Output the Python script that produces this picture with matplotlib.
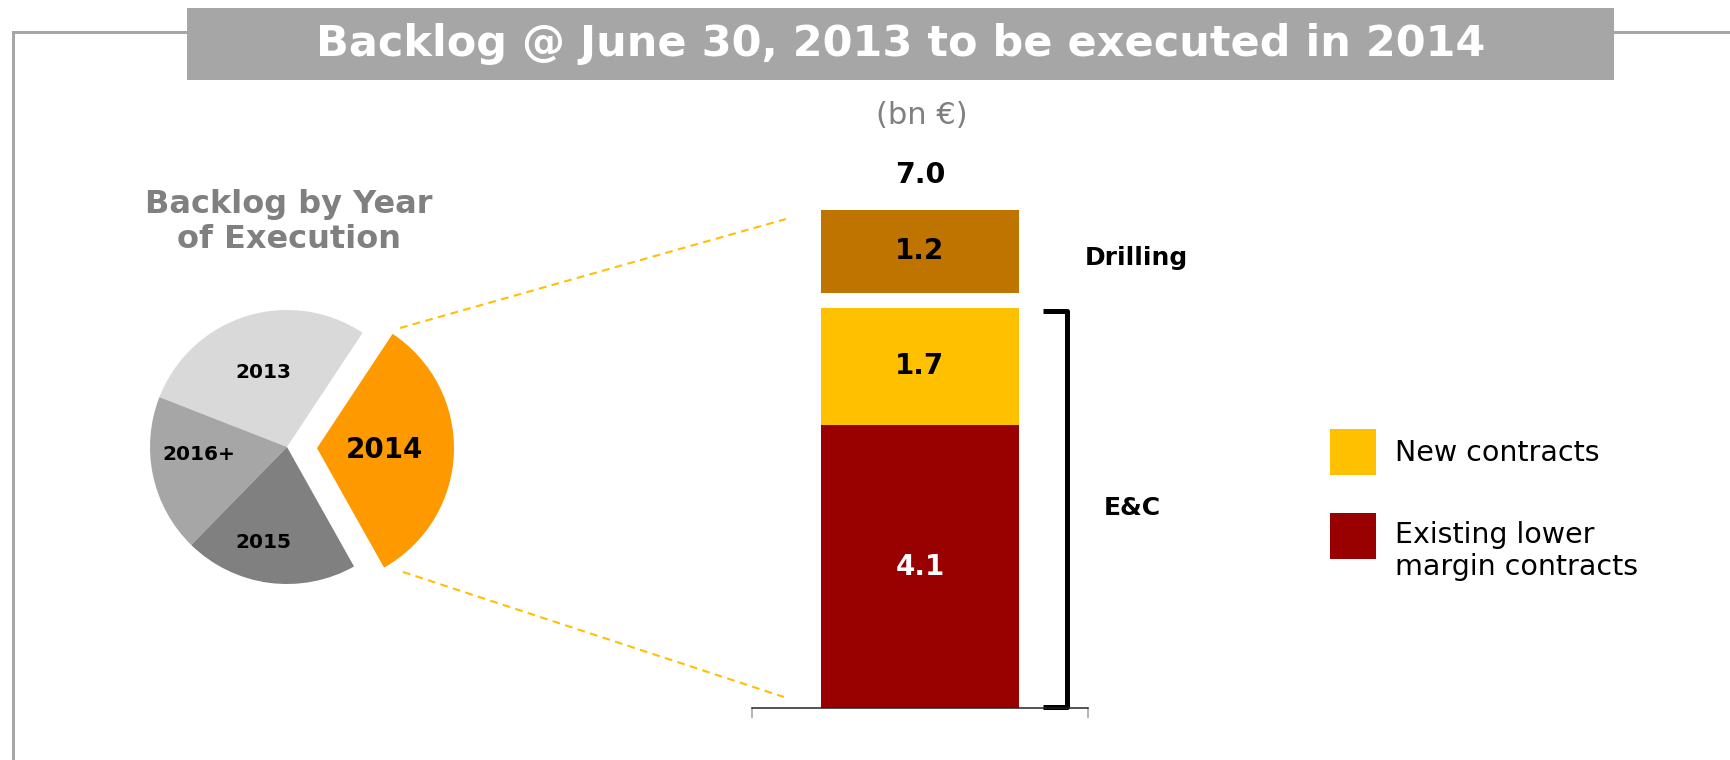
import matplotlib
matplotlib.use("Agg")
import matplotlib.pyplot as plt
from matplotlib.patches import Rectangle

# --- data -------------------------------------------------------------
pie_labels = ["2014", "2013", "2016+", "2015"]
pie_values = [7.0, 6.1, 4.0, 4.4]          # bn €, backlog by year of execution
pie_colors = ["#ff9900", "#d9d9d9", "#a6a6a6", "#808080"]

seg_names = ["Existing lower\nmargin contracts", "New contracts", "Drilling"]
seg_values = [4.1, 1.7, 1.2]
seg_colors = ["#990000", "#ffc000", "#c07400"]
seg_text_colors = ["white", "black", "black"]
total_2014 = 7.0

title = "Backlog @ June 30, 2013 to be executed in 2014"
unit = "(bn \u20ac)"
pie_title = "Backlog by Year\nof Execution"

# --- figure -----------------------------------------------------------
W, H = 1731, 760
PX = 0.72  # points per pixel at dpi=100


def fy(y):
    # pixel row (from top) -> overlay y coordinate
    return H - y


fig = plt.figure(figsize=(W / 100, H / 100), dpi=100)
ax = fig.add_axes([0, 0, 1, 1])

# pie, drawn in pixel units (explode is in the same units)
wedges, _ = ax.pie(
    pie_values,
    colors=pie_colors,
    startangle=-60.7,
    counterclock=True,
    explode=[30, 0, 0, 0],
    center=(287, fy(447)),
    radius=137,
    wedgeprops=dict(linewidth=0),
)
ax.set_aspect("auto")
ax.set_xlim(0, W)
ax.set_ylim(0, H)
ax.axis("off")

# frame lines and title banner
frame = "#a6a6a6"
ax.plot([13, 13, 187], [fy(760), fy(32), fy(32)], color=frame, lw=3 * PX,
        solid_joinstyle="miter")
ax.plot([1614, W], [fy(32), fy(32)], color=frame, lw=3 * PX)
ax.add_patch(Rectangle((187, fy(80)), 1614 - 187, 72, color=frame, lw=0))
ax.text(900.5, fy(44), title, color="white", fontsize=31, fontweight="bold",
        ha="center", va="center")

ax.text(922, fy(116), unit, color="#808080", fontsize=22,
        ha="center", va="center")

# pie title and labels
ax.text(289, fy(222), pie_title, color="#808080", fontsize=23,
        fontweight="bold", ha="center", va="center", linespacing=1.15)
label_pos = {"2014": (384, 450), "2013": (263, 372),
             "2016+": (199, 454), "2015": (263, 542)}
for lab in pie_labels:
    x, y = label_pos[lab]
    ax.text(x, fy(y), lab, fontsize=20 if lab == "2014" else 14.5,
            fontweight="bold", ha="center", va="center")

# dashed zoom lines from the 2014 slice to the bar
dash = dict(color="#ffc000", lw=1.5, linestyle=(0, (3.7, 2.6)))
ax.plot([400, 786], [fy(328), fy(219)], **dash)
ax.plot([403, 784], [fy(572), fy(697)], **dash)

# legend (E&C parts)
ax.add_patch(Rectangle((1330, fy(475)), 46, 46, color=seg_colors[1], lw=0))
ax.add_patch(Rectangle((1330, fy(559)), 46, 46, color=seg_colors[0], lw=0))
ax.text(1395, fy(453), seg_names[1], fontsize=20.5, ha="left", va="center")
ax.text(1395, fy(551), seg_names[0], fontsize=20.5, ha="left", va="center",
        linespacing=1.2)

# --- stacked bar ------------------------------------------------------
bar_px = 69.0   # pixels per bn €
gap = 0.22      # white gap between E&C and Drilling
bx = fig.add_axes([752 / W, (H - 708) / H, 336 / W, 8 * bar_px / H])
bx.set_xlim(752, 1088)
bx.set_ylim(0, 8)

bottoms = [0, seg_values[0], seg_values[0] + seg_values[1] + gap]
for v, b, c, tc in zip(seg_values, bottoms, seg_colors, seg_text_colors):
    bx.bar(920, v, bottom=b, width=198, color=c, lw=0)
    bx.text(920, b + v / 2, f"{v:.1f}", color=tc, fontsize=20,
            fontweight="bold", ha="center", va="center")

top = bottoms[2] + seg_values[2]
bx.text(920, top + 0.5, f"{total_2014:.1f}", fontsize=20.5,
        fontweight="bold", ha="center", va="center")

# bracket around E&C
ec = seg_values[0] + seg_values[1]
bx.plot([1043, 1067, 1067, 1043], [ec - 0.05, ec - 0.05, 0.02, 0.02],
        color="black", lw=5 * PX, solid_joinstyle="round",
        solid_capstyle="butt", clip_on=False)
bx.text(1104, ec / 2, "E&C", fontsize=18, fontweight="bold",
        ha="left", va="center")
bx.text(1085, bottoms[2] + seg_values[2] / 2 - 0.1, "Drilling", fontsize=18,
        fontweight="bold", ha="left", va="center")

for side in ("top", "right", "left"):
    bx.spines[side].set_visible(False)
bx.spines["bottom"].set_color("#202020")
bx.spines["bottom"].set_linewidth(1.5 * PX)
bx.set_yticks([])
bx.set_xticks([752, 1088])
bx.set_xticklabels([])
bx.tick_params(axis="x", direction="out", length=10 * PX, width=1.5 * PX,
               color="#a0a0a0")
bx.patch.set_visible(False)

fig.savefig("out.png", dpi=100)
